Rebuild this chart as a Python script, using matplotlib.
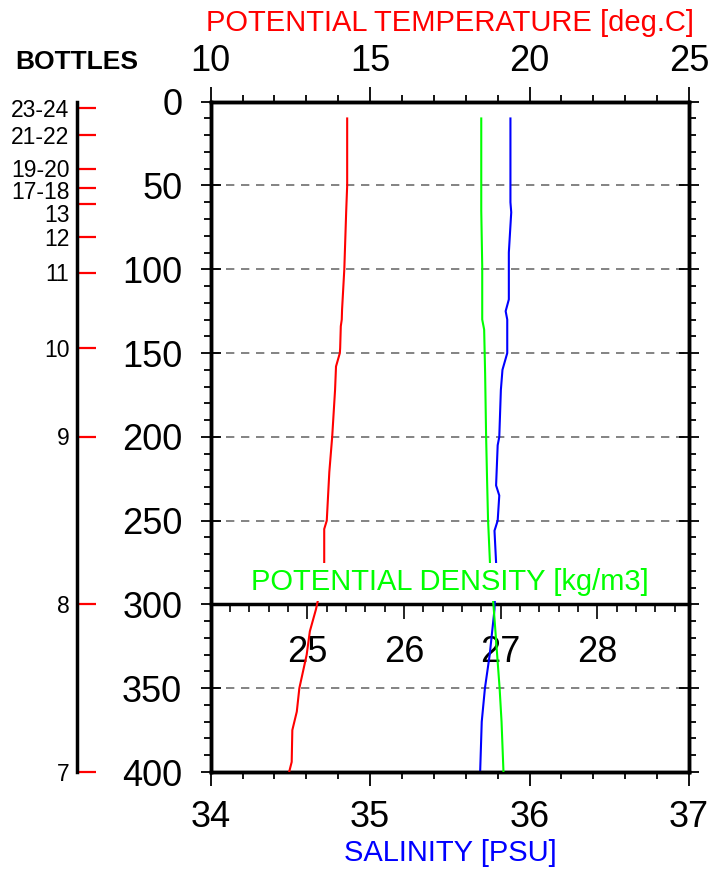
import matplotlib
matplotlib.use("Agg")
import matplotlib.pyplot as plt
from matplotlib.ticker import MultipleLocator, FixedLocator
from matplotlib.transforms import offset_copy

plt.rcParams['font.family'] = ['Liberation Sans', 'DejaVu Sans']

# ---- data ----
temp_depth = [10, 50, 65, 100, 124, 130, 134, 147, 150, 158, 172, 200, 221, 250, 255,
              275, 290, 303, 316, 330, 350, 364, 375, 394, 400]
temp = [14.28, 14.28, 14.25, 14.19, 14.12, 14.11, 14.08, 14.06, 14.05, 13.93, 13.90,
        13.81, 13.72, 13.64, 13.56, 13.56, 13.45, 13.30, 13.11, 13.01, 12.78, 12.70,
        12.56, 12.54, 12.46]

sal_depth = [10, 60, 66, 90, 118, 125, 130, 147, 150, 160, 172, 200, 205, 229, 235,
             250, 256, 275, 303, 330, 350, 370, 400]
sal = [35.88, 35.88, 35.885, 35.87, 35.87, 35.85, 35.86, 35.86, 35.86, 35.83, 35.82,
       35.81, 35.80, 35.79, 35.81, 35.80, 35.78, 35.79, 35.78, 35.75, 35.72, 35.70, 35.69]

dens_depth = [10, 65, 98, 124, 130, 136, 162, 199, 225, 249, 275, 303, 350, 370, 400]
dens = [26.80, 26.80, 26.81, 26.81, 26.81, 26.83, 26.84, 26.85, 26.86, 26.87, 26.89,
        26.93, 26.99, 27.01, 27.03]

bottle_labels = ['23-24', '21-22', '19-20', '17-18', '13', '12', '11', '10', '9', '8', '7']
bottle_depths = [4, 20, 40, 51.5, 61, 81, 102, 147, 200, 300, 400]
# extra downward nudge (points) so crowded labels don't collide
bottle_nudge = [0, 0, 0, 1.5, 6.5, 0, 0, 0, 0, 0, 0]

grid_depths = [50, 100, 150, 200, 250, 350]

W, H = 714, 869
fig = plt.figure(figsize=(W / 100, H / 100), dpi=100)
fig.patch.set_facecolor('white')

x0, x1 = 210.7, 689.0
ytop, ybot = 101.7, 772.0
rect = [x0 / W, (H - ybot) / H, (x1 - x0) / W, (ybot - ytop) / H]

# lower density scale panel (300-400 m), drawn underneath
y300 = ytop + (ybot - ytop) * 300 / 400
ax_dl = fig.add_axes([x0 / W, (H - ybot) / H, (x1 - x0) / W, (ybot - y300) / H])
ax_dl.set_zorder(-1)
ax_dl.set_xlim(24, 28.95)
ax_dl.set_ylim(0, 1)
ax_dl.patch.set_visible(False)
for s in ['left', 'right', 'bottom']:
    ax_dl.spines[s].set_visible(False)
ax_dl.spines['top'].set_linewidth(2.5)
ax_dl.xaxis.set_major_locator(FixedLocator([25, 26, 27, 28]))
ax_dl.xaxis.set_minor_locator(MultipleLocator(0.2))
ax_dl.tick_params(axis='x', which='both', top=True, bottom=False, labeltop=True,
                  labelbottom=False, direction='in', width=1.2)
ax_dl.tick_params(axis='x', which='major', length=11, labelsize=26, pad=-47)
ax_dl.tick_params(axis='x', which='minor', length=5.5)
ax_dl.set_yticks([])

# main axes: salinity (bottom) vs depth
ax = fig.add_axes(rect)
ax.patch.set_visible(False)
ax.set_ylim(400, 0)
ax.set_xlim(34, 37)
for s in ax.spines.values():
    s.set_linewidth(2.5)
ax.xaxis.set_major_locator(MultipleLocator(1))
ax.xaxis.set_minor_locator(MultipleLocator(0.2))
ax.yaxis.set_major_locator(MultipleLocator(50))
ax.yaxis.set_minor_locator(MultipleLocator(10))
ax.tick_params(axis='x', which='major', direction='out', length=10, width=1.3,
               labelsize=26, pad=10.5)
ax.tick_params(axis='x', which='minor', direction='out', length=5, width=1.3)
ax.tick_params(axis='y', which='major', direction='inout', length=15, width=1.3,
               left=True, right=True, labelsize=26, pad=13)
ax.tick_params(axis='y', which='minor', direction='out', length=5, width=1.3,
               left=True, right=True)
for d in grid_depths:
    ax.axhline(d, color='#6e6e6e', lw=1.2, ls=(0, (5, 4)), zorder=1)
ax.plot(sal, sal_depth, color='#0000ff', lw=1.5, zorder=3)

# temperature on top
ax_t = ax.twiny()
ax_t.set_xlim(10, 25)
ax_t.xaxis.set_major_locator(MultipleLocator(5))
ax_t.xaxis.set_minor_locator(MultipleLocator(1))
ax_t.tick_params(axis='x', which='major', direction='out', length=10.5, width=1.3,
                 labelsize=26, pad=6)
ax_t.tick_params(axis='x', which='minor', direction='out', length=5, width=1.3)
for s in ax_t.spines.values():
    s.set_linewidth(2.5)
ax_t.plot(temp, temp_depth, color='#ff0000', lw=1.5, zorder=3)

# density, no own ticks here
ax_d = ax.twiny()
ax_d.set_xlim(24, 28.95)
ax_d.tick_params(axis='x', which='both', top=False, labeltop=False)
for s in ax_d.spines.values():
    s.set_visible(False)
ax_d.plot(dens, dens_depth, color='#00ff00', lw=1.5, zorder=3)
ax_d.text(0.5, 286.5, 'POTENTIAL DENSITY [kg/m3]', transform=ax_d.get_yaxis_transform(),
          ha='center', va='center', color='#00ff00', fontsize=21, zorder=10,
          bbox=dict(facecolor='white', edgecolor='none', pad=3.5))

fig.text(450 / W, 1 - 23 / H, 'POTENTIAL TEMPERATURE [deg.C]', color='#ff0000',
         fontsize=21, ha='center', va='center')
fig.text(450 / W, 1 - 853 / H, 'SALINITY [PSU]', color='#0000ff',
         fontsize=21, ha='center', va='center')

# bottles scale
ax_b = fig.add_axes([77 / W, rect[1], 19 / W, rect[3]])
ax_b.patch.set_visible(False)
ax_b.set_ylim(400, 0)
ax_b.set_xlim(0, 1)
ax_b.set_xticks([])
for s in ['right', 'top', 'bottom']:
    ax_b.spines[s].set_visible(False)
ax_b.spines['left'].set_linewidth(2.5)
ax_b.set_yticks(bottle_depths)
ax_b.set_yticklabels([])
ax_b.tick_params(axis='y', direction='in', length=13.7, width=1.6, color='#ff0000')
for lab, d, dy in zip(bottle_labels, bottle_depths, bottle_nudge):
    tr = offset_copy(ax_b.get_yaxis_transform(), fig=fig, x=-5.5, y=-1.5 - dy,
                     units='points')
    ax_b.text(0, d, lab, transform=tr, ha='right', va='center', fontsize=16.5,
              clip_on=False)
fig.text(15 / W, 1 - 62 / H, 'BOTTLES', fontsize=19, fontweight='bold',
         ha='left', va='center')

fig.savefig('out.png', dpi=100)
